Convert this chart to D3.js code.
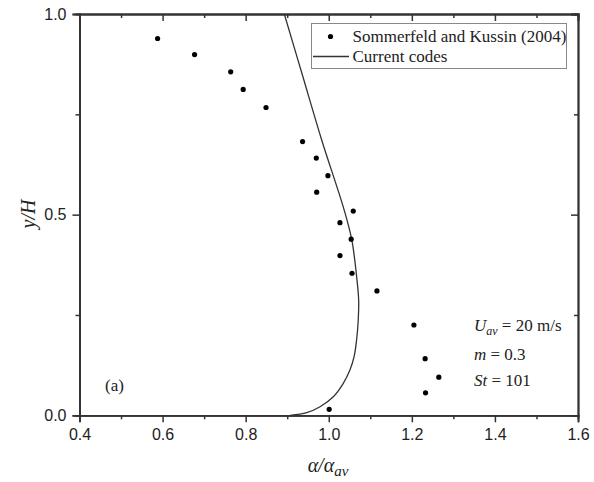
<!DOCTYPE html>
<html>
<head>
<meta charset="utf-8">
<script src="https://cdn.jsdelivr.net/npm/d3@7"></script>
<style>
  html, body { margin: 0; padding: 0; background: #fff; }
  svg text { fill: #222; }
  .tick-lbl { font-family: "Liberation Sans", Arial, sans-serif; font-size: 16px; }
  .serif { font-family: "Liberation Serif", "Times New Roman", serif; }
</style>
</head>
<body>
<svg id="chart" width="594" height="482"></svg>
<script>
// Measured particle concentration profile (Sommerfeld and Kussin, 2004)
const expRatio = [0.588, 0.677, 0.764, 0.794, 0.849, 0.937, 0.970, 0.998, 0.971, 1.059,
                  1.027, 1.054, 1.027, 1.056, 1.116, 1.205, 1.232, 1.265, 1.233, 1.001];
const expHeight = [0.939, 0.899, 0.856, 0.812, 0.767, 0.682, 0.641, 0.597, 0.556, 0.509,
                   0.480, 0.439, 0.398, 0.354, 0.310, 0.225, 0.141, 0.095, 0.056, 0.015];

// Computed profile from the present code
const simRatio = [0.893, 0.938, 0.983, 1.037, 1.0555, 1.068, 1.072, 1.071, 1.067,
                  1.061, 1.051, 1.035, 1.011, 0.979, 0.947, 0.907];
const simHeight = [1.0, 0.843, 0.686, 0.512, 0.437, 0.337, 0.2875, 0.2377, 0.1877,
                   0.146, 0.1127, 0.0797, 0.0463, 0.0214, 0.0065, 0.0];

const xMajor = [0.4, 0.6, 0.8, 1.0, 1.2, 1.4, 1.6];
const xMinor = [0.5, 0.7, 0.9, 1.1, 1.3, 1.5];
const yMajor = [0.0, 0.5, 1.0];
const yMinor = [0.25, 0.75];

const svg = d3.select("#chart");
const L = 79.5, R = 578, T = 14, B = 415.3;
const x = d3.scaleLinear().domain([0.4, 1.6]).range([L, R]);
const y = d3.scaleLinear().domain([0, 1]).range([B, T]);
const axisColor = "#333";

// Axes: outward ticks on bottom/left, inward on top/right
function styleAxis(g) {
  g.select(".domain").attr("stroke", axisColor).attr("stroke-width", 1.8);
  g.selectAll(".tick line").attr("stroke", axisColor).attr("stroke-width", 1.5);
}
function addAxis(axisFn, scale, ticks, size, transform, labels) {
  const a = axisFn(scale).tickValues(ticks).tickSize(size).tickPadding(6);
  if (!labels) a.tickFormat("");
  else a.tickFormat(d3.format(".1f"));
  const g = svg.append("g").attr("transform", transform).call(a);
  styleAxis(g);
  g.selectAll("text").attr("class", "tick-lbl").attr("fill", "#222");
  g.attr("font-family", null).attr("font-size", null);
  return g;
}
addAxis(d3.axisBottom, x, xMinor, 4, `translate(0,${B})`, false);
addAxis(d3.axisBottom, x, xMajor, 7, `translate(0,${B})`, true);
addAxis(d3.axisTop, x, xMinor, -4, `translate(0,${T})`, false);
addAxis(d3.axisTop, x, xMajor, -7, `translate(0,${T})`, false);
addAxis(d3.axisLeft, y, yMinor, 4, `translate(${L},0)`, false);
addAxis(d3.axisLeft, y, yMajor, 7, `translate(${L},0)`, true);
addAxis(d3.axisRight, y, yMinor, -4, `translate(${R},0)`, false);
addAxis(d3.axisRight, y, yMajor, -7, `translate(${R},0)`, false);

// Simulated profile
const simPts = simRatio.map((v, i) => [v, simHeight[i]]);
svg.append("path")
  .datum(simPts)
  .attr("fill", "none")
  .attr("stroke", "#333")
  .attr("stroke-width", 1.3)
  .attr("d", d3.line().x(d => x(d[0])).y(d => y(d[1])).curve(d3.curveCatmullRom.alpha(0.5)));

// Experimental points
svg.append("g").selectAll("circle")
  .data(expRatio.map((v, i) => [v, expHeight[i]]))
  .join("circle")
  .attr("cx", d => x(d[0]))
  .attr("cy", d => y(d[1]))
  .attr("r", 2.6)
  .attr("fill", "#000");

// Legend
const lg = svg.append("g");
lg.append("rect").attr("x", 311.5).attr("y", 23.5).attr("width", 255).attr("height", 45)
  .attr("fill", "#fff").attr("stroke", "#888").attr("stroke-width", 1);
lg.append("circle").attr("cx", 330.5).attr("cy", 36.5).attr("r", 2.6).attr("fill", "#000");
lg.append("line").attr("x1", 313).attr("x2", 349).attr("y1", 56.5).attr("y2", 56.5)
  .attr("stroke", "#333").attr("stroke-width", 1.3);
lg.append("text").attr("class", "serif").attr("x", 352.5).attr("y", 42).attr("font-size", 17)
  .text("Sommerfeld and Kussin (2004)");
lg.append("text").attr("class", "serif").attr("x", 352.5).attr("y", 62).attr("font-size", 17)
  .text("Current codes");

// Flow conditions
const note = svg.append("g").attr("class", "serif").attr("font-size", 17);
const t1 = note.append("text").attr("x", 474).attr("y", 331);
t1.append("tspan").attr("font-style", "italic").text("U");
t1.append("tspan").attr("font-style", "italic").attr("font-size", 12).attr("dy", 4).text("av");
t1.append("tspan").attr("dy", -4).text(" = 20 m/s");
const t2 = note.append("text").attr("x", 474).attr("y", 360);
t2.append("tspan").attr("font-style", "italic").text("m");
t2.append("tspan").text(" = 0.3");
const t3 = note.append("text").attr("x", 474).attr("y", 386);
t3.append("tspan").attr("font-style", "italic").text("St");
t3.append("tspan").text(" = 101");

svg.append("text").attr("class", "serif").attr("x", 105).attr("y", 391).attr("font-size", 17)
  .text("(a)");

// Axis titles
const xt = svg.append("text").attr("class", "serif").attr("x", 328).attr("y", 472)
  .attr("text-anchor", "middle").attr("font-size", 20).attr("font-style", "italic");
xt.append("tspan").text("α/α");
xt.append("tspan").attr("font-size", 15).attr("dy", 4).text("av");

svg.append("text").attr("class", "serif")
  .attr("transform", "translate(35,214) rotate(-90)")
  .attr("text-anchor", "middle").attr("font-size", 20).attr("font-style", "italic")
  .text("y/H");
</script>
</body>
</html>
